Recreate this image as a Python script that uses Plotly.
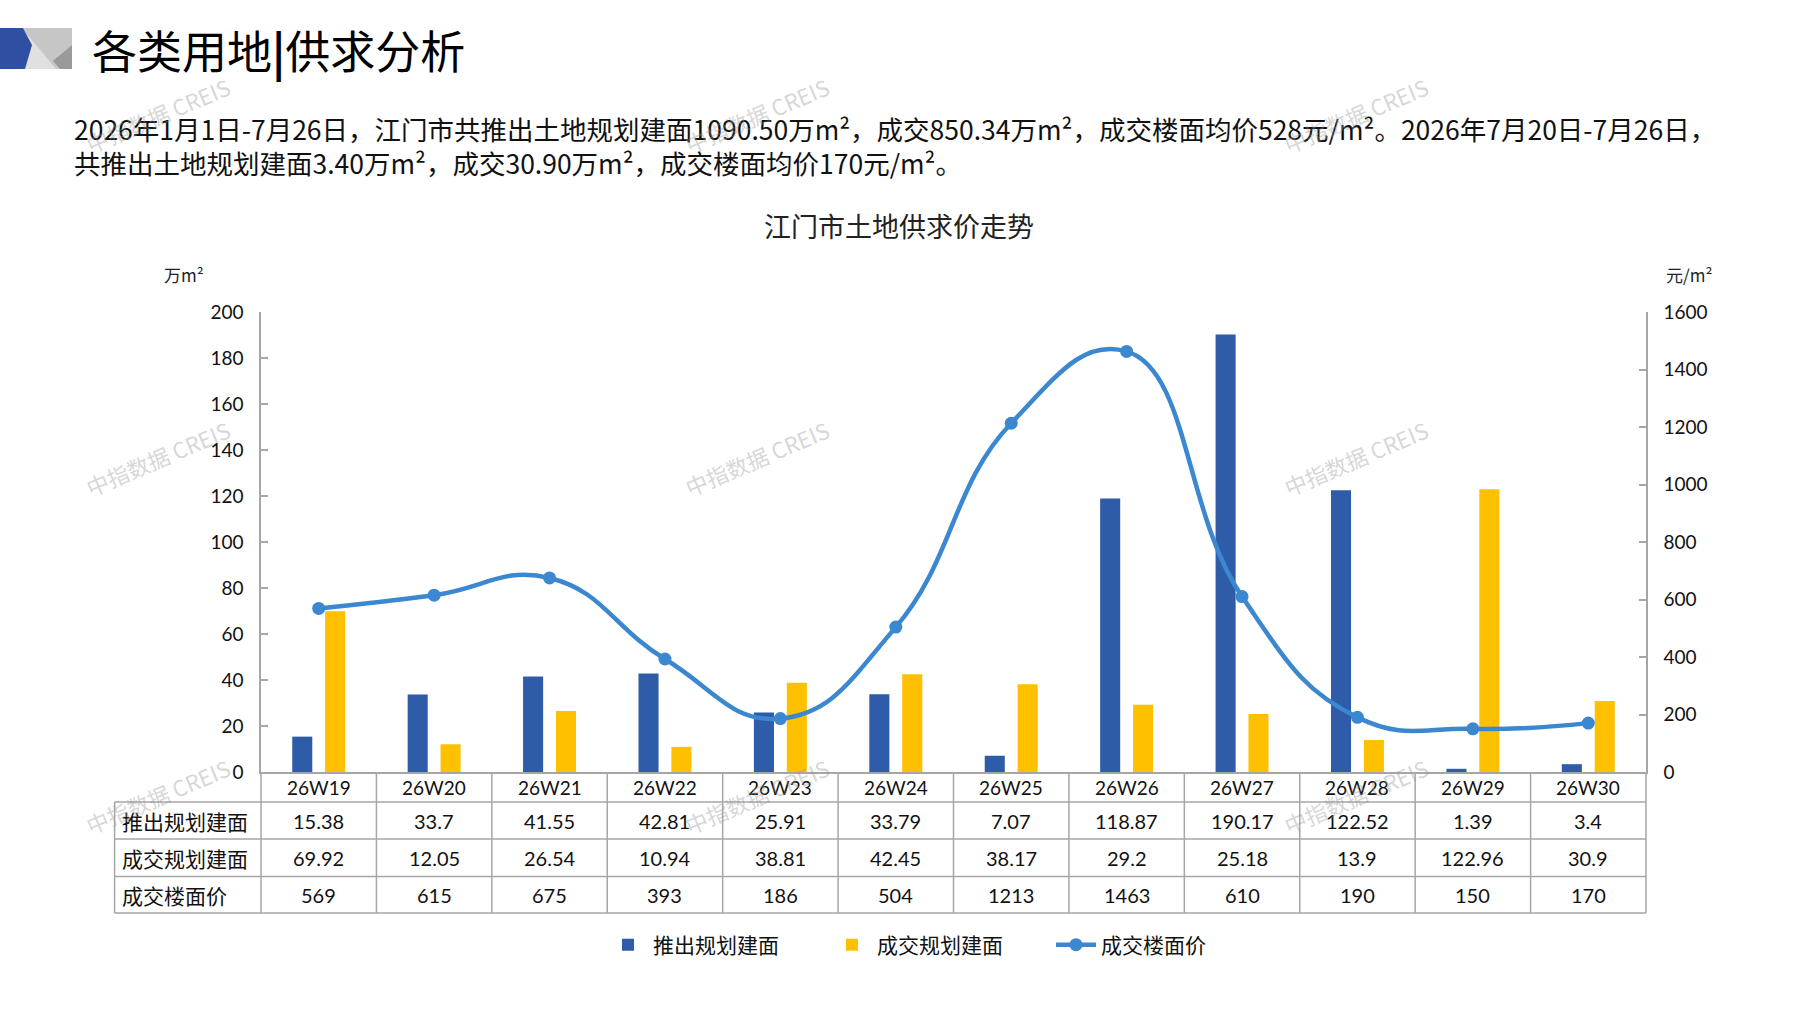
import plotly.graph_objects as go

# ---------------- data ----------------
weeks = ["26W19", "26W20", "26W21", "26W22", "26W23", "26W24",
         "26W25", "26W26", "26W27", "26W28", "26W29", "26W30"]
supply_area = [15.38, 33.7, 41.55, 42.81, 25.91, 33.79, 7.07, 118.87, 190.17, 122.52, 1.39, 3.4]
deal_area = [69.92, 12.05, 26.54, 10.94, 38.81, 42.45, 38.17, 29.2, 25.18, 13.9, 122.96, 30.9]
deal_price = [569, 615, 675, 393, 186, 504, 1213, 1463, 610, 190, 150, 170]
series_names = ["推出规划建面", "成交规划建面", "成交楼面价"]

page_title = "各类用地<b>|</b>供求分析"
summary = ("2026年1月1日-7月26日，江门市共推出土地规划建面1090.50万m²，成交850.34万m²，"
           "成交楼面均价528元/m²。2026年7月20日-7月26日，<br>"
           "共推出土地规划建面3.40万m²，成交30.90万m²，成交楼面均价170元/m²。")
chart_title = "江门市土地供求价走势"
left_unit = "万m²"
right_unit = "元/m²"
watermark = "中指数据 CREIS"

# ---------------- geometry ----------------
W, H = 1797, 1010
L, R, T, B = 261, 151, 312, 238
PW, PH = W - L - R, H - T - B
BASE = H - B


def px(x):
    return (x - L) / PW


def py(y):
    return (BASE - y) / PH


CJK = "Noto Sans CJK SC"
NUM = "Lato, Noto Sans CJK SC"
GRID = "#A6A6A6"
BLUE = "#2F5CA8"
YELLOW = "#FFC000"
LINE = "#3B87D0"

fig = go.Figure()
fig.add_trace(go.Bar(x=weeks, y=supply_area, name=series_names[0],
                     marker=dict(color=BLUE, line=dict(width=0)), yaxis="y"))
fig.add_trace(go.Bar(x=weeks, y=deal_area, name=series_names[1],
                     marker=dict(color=YELLOW, line=dict(width=0)), yaxis="y"))
fig.add_trace(go.Scatter(x=weeks, y=deal_price, name=series_names[2], yaxis="y2",
                         mode="lines+markers",
                         line=dict(color=LINE, width=4.5, shape="spline", smoothing=1.3),
                         marker=dict(color=LINE, size=13)))

shapes = []
annotations = []


# ---- icon top-left ----
def path(pts):
    return "M " + " L ".join(f"{px(x):.5f},{py(y):.5f}" for x, y in pts) + " Z"


icon = [
    ([(0, 28), (72, 28), (72, 69), (0, 69)], "#C6C6C6"),
    ([(22, 28), (56, 69), (22, 69)], "#E0E0E0"),
    ([(72, 45), (53, 61), (60, 69), (72, 69)], "#9A9A9A"),
    ([(0, 28), (23, 28), (32, 45), (25, 69), (0, 69)], "#2F4FA2"),
]
for pts, col in icon:
    shapes.append(dict(type="path", xref="paper", yref="paper", path=path(pts),
                       fillcolor=col, line=dict(width=0), layer="above"))

annotations.append(dict(text=page_title, xref="paper", yref="paper", x=px(90), y=py(49),
                        xanchor="left", yanchor="middle", showarrow=False,
                        font=dict(family=CJK, size=45, color="#000000")))
annotations.append(dict(text=summary, xref="paper", yref="paper", x=px(72), y=py(145),
                        xanchor="left", yanchor="middle", align="left", showarrow=False,
                        font=dict(family=CJK, size=26.5, color="#111111")))
annotations.append(dict(text=chart_title, xref="paper", yref="paper", x=px(899), y=py(225),
                        xanchor="center", yanchor="middle", showarrow=False,
                        font=dict(family=CJK, size=27, color="#222222")))
annotations.append(dict(text=left_unit, xref="paper", yref="paper", x=px(184), y=py(274),
                        xanchor="center", yanchor="middle", showarrow=False,
                        font=dict(family=CJK, size=17, color="#222222")))
annotations.append(dict(text=right_unit, xref="paper", yref="paper", x=px(1689), y=py(274),
                        xanchor="center", yanchor="middle", showarrow=False,
                        font=dict(family=CJK, size=17, color="#222222")))

# ---- data table under the axis ----
row_px = [772, 802, 839, 876.5, 913]
row_y = [py(v) for v in row_px]
tbl_left = px(114.6)
lw = 1.5
for yy in row_y[1:]:
    shapes.append(dict(type="line", xref="paper", yref="paper", x0=tbl_left, x1=1,
                       y0=yy, y1=yy, line=dict(color=GRID, width=lw), layer="above"))
shapes.append(dict(type="line", xref="paper", yref="paper", x0=tbl_left, x1=tbl_left,
                   y0=row_y[1], y1=row_y[-1], line=dict(color=GRID, width=lw)))
for xe in (0, 1):
    shapes.append(dict(type="line", xref="paper", yref="paper", x0=xe, x1=xe,
                       y0=row_y[0], y1=row_y[-1], line=dict(color=GRID, width=lw)))
for i in range(len(weeks) - 1):
    shapes.append(dict(type="line", xref="x", yref="paper", x0=i + 0.5, x1=i + 0.5,
                       y0=row_y[0], y1=row_y[-1], line=dict(color=GRID, width=lw)))

centers = [(row_y[k] + row_y[k + 1]) / 2 for k in range(4)]
for w in weeks:
    annotations.append(dict(text=w, xref="x", yref="paper", x=w, y=centers[0],
                            xanchor="center", yanchor="middle", showarrow=False,
                            font=dict(family=NUM, size=19, color="#111111")))
rows = [supply_area, deal_area, deal_price]
for k, (nm, vals) in enumerate(zip(series_names, rows)):
    annotations.append(dict(text=nm, xref="paper", yref="paper", x=px(120), y=centers[k + 1],
                            xanchor="left", yanchor="middle", showarrow=False,
                            font=dict(family=CJK, size=21, color="#111111")))
    for w, v in zip(weeks, vals):
        annotations.append(dict(text=str(v), xref="x", yref="paper", x=w, y=centers[k + 1],
                                xanchor="center", yanchor="middle", showarrow=False,
                                font=dict(family=NUM, size=20, color="#111111")))

# ---- watermarks ----
for wx in (157, 756, 1355):
    for wy in (115, 458, 796):
        annotations.append(dict(text=watermark, xref="paper", yref="paper",
                                x=px(wx), y=py(wy), xanchor="center", yanchor="middle",
                                showarrow=False, textangle=-23,
                                font=dict(family=CJK, size=22, color="rgba(150,150,150,0.40)")))

axis_common = dict(showline=True, linecolor=GRID, linewidth=1.5, showgrid=False,
                   zeroline=False, ticks="inside", ticklen=7, tickcolor=GRID, tickwidth=1.5,
                   tickfont=dict(family=NUM, size=19, color="#111111"), fixedrange=True)

fig.update_layout(
    width=W, height=H,
    margin=dict(l=L, r=R, t=T, b=B, autoexpand=False),
    paper_bgcolor="white", plot_bgcolor="white",
    barmode="group", bargap=0.43, bargroupgap=0.39,
    xaxis=dict(type="category", range=[-0.5, len(weeks) - 0.5], showline=True,
               linecolor=GRID, linewidth=1.5, showticklabels=False, ticks="",
               showgrid=False, zeroline=False, fixedrange=True),
    yaxis=dict(range=[0, 200], dtick=20, ticklabelstandoff=12, **axis_common),
    yaxis2=dict(range=[0, 1600], dtick=200, overlaying="y", side="right",
                ticklabelstandoff=12, **axis_common),
    legend=dict(orientation="h", x=px(603), xanchor="left", y=py(945), yanchor="middle",
                font=dict(family=CJK, size=21, color="#111111"), bgcolor="rgba(0,0,0,0)",
                entrywidth=169, entrywidthmode="pixels", itemwidth=40, tracegroupgap=0),
    shapes=shapes,
    annotations=annotations,
    showlegend=True,
    hovermode=False,
)

fig.write_html("out.html", config={"displayModeBar": False},
               post_script="document.body.style.margin='0';document.body.style.overflow='hidden';")
